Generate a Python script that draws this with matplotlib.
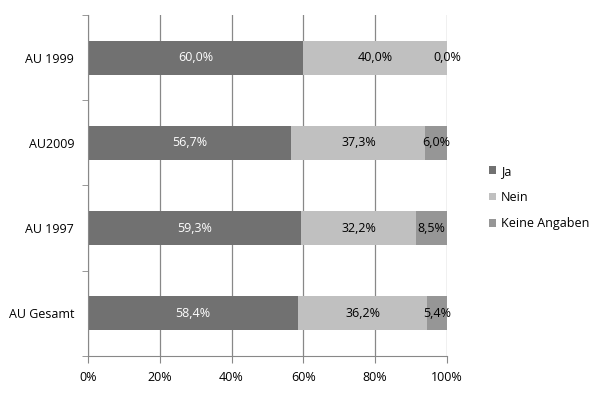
import matplotlib.pyplot as plt
import numpy as np

categories = ["AU 1999", "AU2009", "AU 1997", "AU Gesamt"]
ja = [60.0, 56.7, 59.3, 58.4]
nein = [40.0, 37.3, 32.2, 36.2]
keine = [0.0, 6.0, 8.5, 5.4]
series_names = ["Ja", "Nein", "Keine Angaben"]
colors = ["#717171", "#c0c0c0", "#969696"]
label_colors = ["white", "black", "black"]

plt.rcParams["font.family"] = ["Open Sans", "DejaVu Sans"]
plt.rcParams["font.size"] = 9

fig = plt.figure(figsize=(6, 3.93), dpi=100)
ax = fig.add_axes([0.1467, 0.094, 0.598, 0.868])

y = np.arange(len(categories))[::-1]
left = np.zeros(len(categories))
for vals, name, col, lc in zip([ja, nein, keine], series_names, colors, label_colors):
    vals = np.array(vals)
    ax.barh(y, vals, left=left, height=0.4, color=col, label=name, zorder=2)
    for yi, l, v in zip(y, left, vals):
        ax.text(l + v / 2, yi, f"{v:.1f}%".replace(".", ","), ha="center", va="center",
                color=lc, fontsize=9, zorder=3)
    left = left + vals

ax.set_xlim(0, 100)
ax.set_ylim(-0.5, len(categories) - 0.5)
ax.set_xticks(np.arange(0, 101, 20))
ax.set_xticklabels([f"{v}%" for v in range(0, 101, 20)])
ax.set_yticks(y)
ax.set_yticklabels(categories)
ax.set_yticks(np.arange(-0.5, len(categories), 1), minor=True)
ax.tick_params(axis="y", which="major", length=0, pad=10)
ax.tick_params(axis="y", which="minor", length=4, color="#888888")
ax.tick_params(axis="x", length=5, color="#888888", pad=6)
ax.grid(axis="x", color="#888888", linewidth=0.9, zorder=0)
for s in ["top", "right"]:
    ax.spines[s].set_visible(False)
for s in ["left", "bottom"]:
    ax.spines[s].set_color("#888888")

ax.legend(loc="center left", bbox_to_anchor=(1.085, 0.465), frameon=False,
          handlelength=0.6, handleheight=0.6, handletextpad=0.4,
          labelspacing=1.05, fontsize=9)

fig.savefig("out.png", dpi=100)
